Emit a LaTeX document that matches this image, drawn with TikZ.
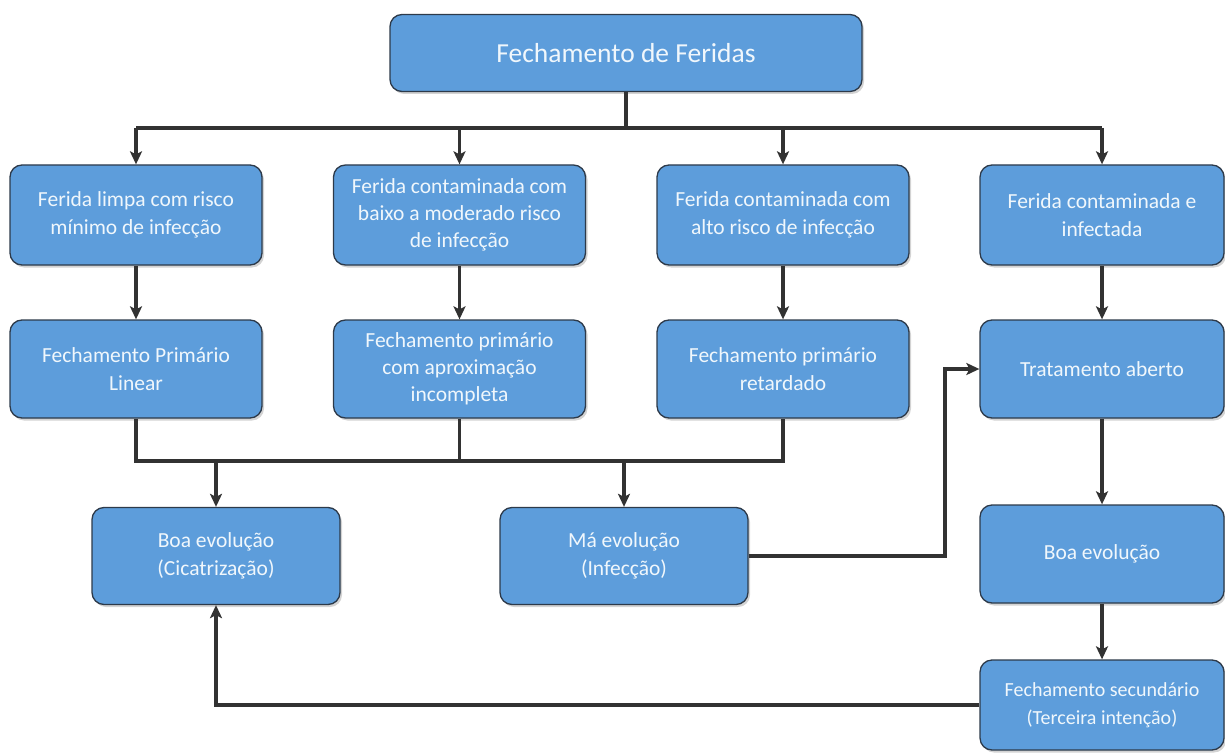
\documentclass[tikz,border=0pt]{standalone}
\usepackage{fontspec}
\setmainfont{Carlito}
\usetikzlibrary{arrows.meta,shadows}
\definecolor{boxblue}{RGB}{93,157,219}
\definecolor{boxedge}{RGB}{45,58,74}
\definecolor{txt}{RGB}{240,247,252}
\definecolor{conn}{RGB}{50,50,50}
\tikzset{
  box/.style={rectangle, rounded corners=12pt, fill=boxblue, draw=boxedge, line width=1.3pt,
    text=txt, align=center, inner sep=2pt, font=\fontsize{21.5}{28.5}\selectfont,
    drop shadow={shadow xshift=2pt, shadow yshift=-2.5pt, opacity=0.35}},
  conline/.style={draw=conn, line width=3.5pt},
  arr/.style={conline, -{Stealth[length=13pt,width=12pt,inset=3pt]}},
}
\begin{document}
\begin{tikzpicture}[x=1pt,y=-1pt]
\useasboundingbox (0,0) rectangle (1225,754);
% nodes
\node[box, minimum width=472pt, minimum height=77pt, font=\fontsize{27.5}{32}\selectfont] (top) at (626,53) {Fechamento de Feridas};
\node[box, minimum width=252pt, minimum height=100pt] (r1a) at (136,215) {Ferida limpa com risco\\mínimo de infecção};
\node[box, minimum width=252pt, minimum height=100pt, font=\fontsize{21.5}{27}\selectfont] (r1b) at (459.5,215) {Ferida contaminada com\\baixo a moderado risco\\de infecção};
\node[box, minimum width=252pt, minimum height=100pt] (r1c) at (783,215) {Ferida contaminada com\\alto risco de infecção};
\node[box, minimum width=244pt, minimum height=100pt] (r1d) at (1102,215) {Ferida contaminada e\\infectada};
\node[box, minimum width=252pt, minimum height=98pt] (r2a) at (136,369) {Fechamento Primário\\Linear};
\node[box, minimum width=252pt, minimum height=98pt, font=\fontsize{21.5}{27}\selectfont] (r2b) at (459.5,369) {Fechamento primário\\com aproximação\\incompleta};
\node[box, minimum width=252pt, minimum height=98pt] (r2c) at (783,369) {Fechamento primário\\retardado};
\node[box, minimum width=244pt, minimum height=98pt] (trat) at (1102,369) {Tratamento aberto};
\node[box, minimum width=248pt, minimum height=97pt] (boa) at (216,556) {Boa evolução\\(Cicatrização)};
\node[box, minimum width=248pt, minimum height=97pt] (ma) at (624,556) {Má evolução\\(Infecção)};
\node[box, minimum width=244pt, minimum height=98pt] (boa2) at (1102,554) {Boa evolução};
\node[box, minimum width=244pt, minimum height=90pt, font=\fontsize{20}{28.5}\selectfont] (fs) at (1102,705) {Fechamento secundário\\(Terceira intenção)};
% helper coordinates
\coordinate (bus1) at (626,128);
\coordinate (bus2) at (626,461);
\coordinate (elbow) at (945,370);
% top bus
\draw[conline] (top.south) -- (bus1);
\draw[conline] (r1a.north |- bus1) -- (r1d.north |- bus1);
\foreach \n in {r1a,r1b,r1c,r1d}{\draw[arr] (\n.north |- bus1) -- (\n.north);}
% row1 -> row2
\draw[arr] (r1a) -- (r2a);
\draw[arr] (r1b) -- (r2b);
\draw[arr] (r1c) -- (r2c);
\draw[arr] (r1d) -- (trat);
% row2 -> bus2
\draw[conline] (r2a.south) -- (r2a.south |- bus2) -- (r2c.south |- bus2) -- (r2c.south);
\draw[conline] (r2b.south) -- (r2b.south |- bus2);
\draw[arr] (boa.north |- bus2) -- (boa.north);
\draw[arr] (ma.north |- bus2) -- (ma.north);
% ma -> tratamento
\draw[arr] (ma.east) -- (ma.east -| elbow) |- (trat.west);
% right column
\draw[arr] (trat) -- (boa2);
\draw[arr] (boa2) -- (fs);
% back to boa
\draw[arr] (fs.west) -| (boa.south);
\end{tikzpicture}
\end{document}
